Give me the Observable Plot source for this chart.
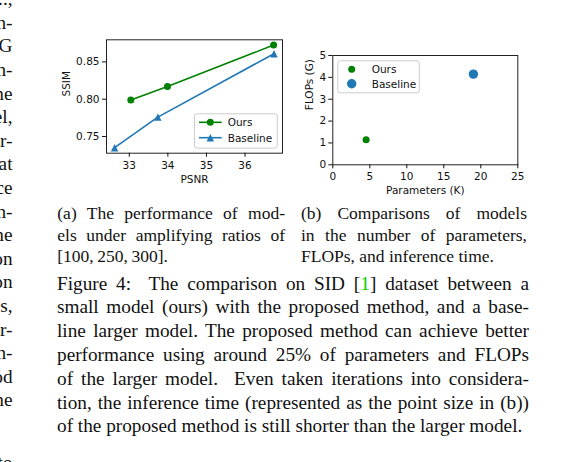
<!DOCTYPE html>
<html>
<head>
<meta charset="utf-8">
<script src="https://cdn.jsdelivr.net/npm/d3@7"></script>
<script src="https://cdn.jsdelivr.net/npm/@observablehq/plot@0.6"></script>
<style>
  html, body { margin: 0; padding: 0; background: #fff; }
  #page { position: relative; width: 584px; height: 462px; overflow: hidden; background: #fff; }
  .abs { position: absolute; }
  .serif { font-family: "Liberation Serif", "Times New Roman", serif; color: #111; }
  .main { font-size: 19.25px; line-height: 23.8px; }
  .sub { font-size: 17.5px; line-height: 21.5px; }
  .jl { white-space: nowrap; text-align: justify; text-align-last: justify; }
  .ll { white-space: nowrap; text-align: left; }
  .frag { font-size: 19.25px; line-height: 23.6px; text-align: right; white-space: nowrap; }
  svg.plotsvg { position: absolute; max-width: none !important; overflow: visible; }
</style>
</head>
<body>
<div id="page"></div>
<script>
// ---------------- data ----------------
const series = ["Ours", "Baseline"];
const seriesColors = ["#008000", "#1f77b4"];

// (a) PSNR / SSIM
const oursPSNR = [33.04, 33.99, 36.74];
const oursSSIM = [0.799, 0.817, 0.8725];
const basePSNR = [32.62, 33.74, 36.75];
const baseSSIM = [0.735, 0.776, 0.861];
const psnrTicks = [33, 34, 35, 36];
const ssimTicks = [0.75, 0.80, 0.85];
const psnrLim = [32.41, 36.97];
const ssimLim = [0.7276, 0.8796];

// (b) parameters / FLOPs / inference time
const paramsK = [4.5, 19];
const flopsG = [1.15, 4.15];
const relTime = [1.0, 1.8];
const paramTicks = [0, 5, 10, 15, 20, 25];
const flopTicks = [0, 1, 2, 3, 4, 5];

// text
const capA = ["(a) The performance of mod-", "els under amplifying ratios of", "[100,\u2009250,\u2009300]."];
const capB = ["(b) Comparisons of models", "in the number of parameters,", "FLOPs, and inference time."];
const mainLines = [
  'Figure 4:&nbsp; The comparison on SID [<span style="color:#00d000">1</span>] dataset between a',
  "small model (ours) with the proposed method, and a base-",
  "line larger model. The proposed method can achieve better",
  "performance using around 25% of parameters and FLOPs",
  "of the larger model.&nbsp; Even taken iterations into considera-",
  "tion, the inference time (represented as the point size in (b))",
  "of the proposed method is still shorter than the larger model."
];
const leftFragments = ["..,", "n-", "G", "n-", "ne", "el,", "r-", "at", "ce", "n-", "ne", "on", "on", "s,", "r-", "n-", "od", "ne", "", ""];

// ---------------- build ----------------
const page = document.getElementById("page");
const ours = oursPSNR.map((x, i) => ({x, y: oursSSIM[i]}));
const base = basePSNR.map((x, i) => ({x, y: baseSSIM[i]}));
const pts = paramsK.map((x, i) => ({x, y: flopsG[i], t: relTime[i], s: series[i]}));

const mplTriangle = {
  draw(ctx, size) {
    const r = Math.sqrt(size / Math.PI);
    ctx.moveTo(0, -r); ctx.lineTo(r, r); ctx.lineTo(-r, r); ctx.closePath();
  }
};

const plotStyle = {fontFamily: "DejaVu Sans", fontSize: "10.5px", color: "#111", background: "transparent", overflow: "visible"};

const left = Plot.plot({
  width: 240, height: 175,
  marginLeft: 56, marginRight: 8, marginTop: 19.3, marginBottom: 42.3,
  x: {domain: psnrLim},
  y: {domain: ssimLim},
  style: plotStyle,
  marks: [
    Plot.line(base, {x: "x", y: "y", stroke: seriesColors[1], strokeWidth: 1.6}),
    Plot.dot(base, {x: "x", y: "y", symbol: mplTriangle, r: 3.7, fill: seriesColors[1], stroke: "none"}),
    Plot.line(ours, {x: "x", y: "y", stroke: seriesColors[0], strokeWidth: 1.6}),
    Plot.dot(ours, {x: "x", y: "y", r: 3.5, fill: seriesColors[0], stroke: "none"}),
    Plot.frame({stroke: "#222", strokeWidth: 1}),
    Plot.axisX({ticks: psnrTicks, tickSize: 4, tickPadding: 4, tickFormat: d => String(d), label: null, fontSize: 10.5}),
    Plot.axisY({ticks: ssimTicks, tickSize: 4, tickPadding: 3, tickFormat: d3.format(".2f"), label: null, fontSize: 10.5}),
    Plot.text(["PSNR"], {text: d => d, frameAnchor: "bottom", lineAnchor: "bottom", dy: 29.7, fontSize: 10.5}),
    Plot.text(["SSIM"], {text: d => d, frameAnchor: "left", rotate: -90, dx: -40, fontSize: 10.5})
  ]
});
left.classList.add("plotsvg");
left.style.left = "50px"; left.style.top = "20px";
page.appendChild(left);

const right = Plot.plot({
  width: 250, height: 175,
  marginLeft: 42.3, marginRight: 22.7, marginTop: 25, marginBottom: 40.7,
  x: {domain: [0, 25]},
  y: {domain: [0, 5]},
  r: {type: "sqrt", domain: [0, d3.max(relTime)], range: [0, 4.7]},
  style: plotStyle,
  marks: [
    Plot.dot(pts, {x: "x", y: "y", r: "t", fill: (d, i) => seriesColors[i], stroke: "none"}),
    Plot.frame({stroke: "#222", strokeWidth: 1}),
    Plot.axisX({ticks: paramTicks, tickSize: 4, tickPadding: 3.5, tickFormat: d => String(d), label: null, fontSize: 10.5}),
    Plot.axisY({ticks: flopTicks, tickSize: 4, tickPadding: 2.5, tickFormat: d => String(d), label: null, fontSize: 10.5}),
    Plot.text(["Parameters (K)"], {text: d => d, frameAnchor: "bottom", lineAnchor: "bottom", dy: 29.1, fontSize: 10.5}),
    Plot.text(["FLOPs (G)"], {text: d => d, frameAnchor: "left", rotate: -90, dx: -23.5, fontSize: 10.5})
  ]
});
right.classList.add("plotsvg");
right.style.left = "290px"; right.style.top = "30px";
page.appendChild(right);

// ---------------- legends (overlay) ----------------
const ov = d3.select(page).append("svg")
  .attr("width", 584).attr("height", 462)
  .style("position", "absolute").style("left", 0).style("top", 0)
  .style("font-family", "DejaVu Sans").style("font-size", "10.5px");

// legend (a)
const la = ov.append("g");
la.append("rect").attr("x", 194.5).attr("y", 113.8).attr("width", 82.8).attr("height", 34.4)
  .attr("rx", 2.5).attr("fill", "rgba(255,255,255,0.85)").attr("stroke", "#cccccc").attr("stroke-width", 1);
[122.3, 137.7].forEach((yy, i) => {
  la.append("line").attr("x1", 199).attr("x2", 221.7).attr("y1", yy).attr("y2", yy)
    .attr("stroke", seriesColors[i]).attr("stroke-width", 1.6);
  if (i === 0) la.append("circle").attr("cx", 210.3).attr("cy", yy).attr("r", 3.5).attr("fill", seriesColors[0]);
  else la.append("path").attr("d", `M210.3,${yy - 3.7}L${210.3 + 3.7},${yy + 3.7}L${210.3 - 3.7},${yy + 3.7}Z`).attr("fill", seriesColors[1]);
  la.append("text").attr("x", 227.7).attr("y", yy + 3.8).attr("fill", "#111").text(series[i]);
});

// legend (b)
const lb = ov.append("g");
lb.append("rect").attr("x", 337.8).attr("y", 60.8).attr("width", 81.5).attr("height", 32)
  .attr("rx", 2.5).attr("fill", "rgba(255,255,255,0.85)").attr("stroke", "#cccccc").attr("stroke-width", 1);
[69.3, 83.7].forEach((yy, i) => {
  lb.append("circle").attr("cx", 351.7).attr("cy", yy).attr("r", i === 0 ? 3.5 : 4.7).attr("fill", seriesColors[i]);
  lb.append("text").attr("x", 371.7).attr("y", yy + 3.8).attr("fill", "#111").text(series[i]);
});

// ---------------- text ----------------
function addLines(lines, cls, leftPx, topPx, widthPx, lh) {
  lines.forEach((s, i) => {
    const d = document.createElement("div");
    d.className = "abs serif " + cls + (i === lines.length - 1 ? " ll" : " jl");
    d.style.left = leftPx + "px";
    d.style.top = (topPx + i * lh) + "px";
    d.style.width = widthPx + "px";
    d.innerHTML = s;
    page.appendChild(d);
  });
}
addLines(capA, "sub", 57.3, 203.35, 227.7, 21.5);
addLines(capB, "sub", 301, 203.35, 226, 21.5);
addLines(mainLines, "main", 57, 271.6, 472, 23.8);

leftFragments.forEach((s, i) => {
  if (!s) return;
  const d = document.createElement("div");
  d.className = "abs serif frag";
  d.style.right = (584 - 12.5) + "px";
  d.style.top = (-12.9 + i * 23.6) + "px";
  d.textContent = s;
  page.appendChild(d);
});
// last partially visible fragment
const lastFrag = document.createElement("div");
lastFrag.className = "abs serif frag";
lastFrag.style.right = (584 - 12.5) + "px";
lastFrag.style.top = (469 - 18.3) + "px";
lastFrag.textContent = "to";
page.appendChild(lastFrag);
</script>
</body>
</html>
